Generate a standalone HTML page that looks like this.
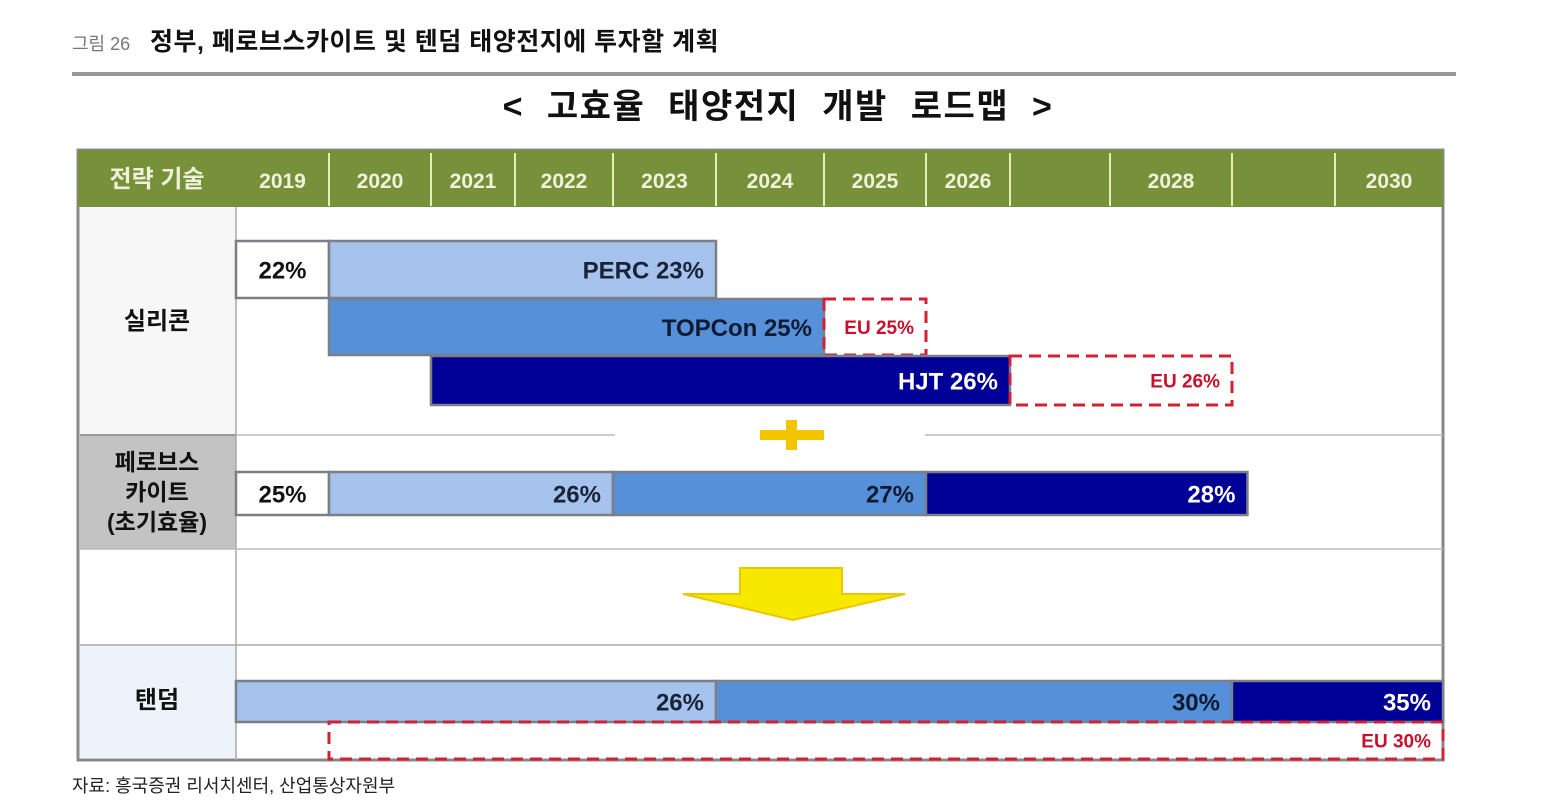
<!DOCTYPE html>
<html><head><meta charset="utf-8">
<style>
html,body{margin:0;padding:0;background:#fff;width:1563px;height:811px;overflow:hidden}
svg{display:block}
text{font-family:"Liberation Sans","Noto Sans CJK KR",sans-serif}
</style></head>
<body>
<svg id="fig" width="1563" height="811" viewBox="0 0 1563 811" xmlns="http://www.w3.org/2000/svg">
<text x="72" y="50" font-size="18" fill="#777">그림 26</text>
<text x="150" y="50" font-size="25" font-weight="bold" fill="#111" letter-spacing="0.5">정부, 페로브스카이트 및 텐덤 태양전지에 투자할 계획</text>
<rect x="72" y="72" width="1384" height="4" fill="#999"/>
<text x="778" y="118" font-size="34" font-weight="bold" fill="#111" text-anchor="middle" letter-spacing="1.5" word-spacing="12">&lt; 고효율 태양전지 개발 로드맵 &gt;</text>

<rect x="78" y="150" width="1365" height="610" fill="#fff" stroke="#888" stroke-width="3"/>
<rect x="78" y="150" width="1365" height="57" fill="#76913a"/>
<rect x="80" y="207" width="156" height="228" fill="#f7f7f7"/>
<rect x="80" y="435" width="156" height="114" fill="#c3c3c3"/>
<rect x="80" y="645" width="156" height="113" fill="#edf3fa"/>
<line x1="236" y1="207" x2="236" y2="760" stroke="#aaa" stroke-width="1.5"/>
<line x1="80" y1="435" x2="236" y2="435" stroke="#999" stroke-width="2"/>
<line x1="236" y1="435" x2="615" y2="435" stroke="#bbb" stroke-width="1.5"/>
<line x1="925" y1="435" x2="1443" y2="435" stroke="#bbb" stroke-width="1.5"/>
<line x1="80" y1="549" x2="1443" y2="549" stroke="#bbb" stroke-width="1.5"/>
<line x1="80" y1="645" x2="1443" y2="645" stroke="#aaa" stroke-width="1.5"/>

<text x="157" y="187" font-size="24" font-weight="bold" fill="#eef0d8" text-anchor="middle">전략 기술</text>
<g id="hdr"></g>

<text x="157" y="329" font-size="24" font-weight="bold" fill="#111" text-anchor="middle">실리콘</text>
<text x="157" y="470" font-size="23" font-weight="bold" fill="#111" text-anchor="middle">페로브스</text>
<text x="157" y="500" font-size="23" font-weight="bold" fill="#111" text-anchor="middle">카이트</text>
<text x="157" y="530" font-size="23" font-weight="bold" fill="#111" text-anchor="middle">(초기효율)</text>
<text x="157" y="708" font-size="24" font-weight="bold" fill="#111" text-anchor="middle">탠덤</text>

<g id="bars"></g>

<g>
<rect x="760" y="430" width="64" height="10" fill="#f5c400"/>
<rect x="786" y="420" width="11" height="30" fill="#f5c400"/>
</g>
<polygon points="740,568 842,568 842,594 905,594 793,620 683,594 740,594" fill="#f8e800" stroke="#e8c800" stroke-width="2"/>

<text x="72" y="792" font-size="18" fill="#222">자료: 흥국증권 리서치센터, 산업통상자원부</text>
</svg>
<script>
const years = [2019,2020,2021,2022,2023,2024,2025,2026,2027,2028,2029,2030,2031];
const headerLabels = ["2019","2020","2021","2022","2023","2024","2025","2026","","2028","","2030"];
const barLabels = ["22%","PERC 23%","TOPCon 25%","EU 25%","HJT 26%","EU 26%","25%","26%","27%","28%","26%","30%","35%","EU 30%"];
const barStart = [2019,2020,2020,2025,2021,2027,2019,2020,2023,2026,2019,2024,2029,2020];
const barEnd   = [2020,2024,2025,2026,2027,2029,2020,2023,2026,2029.15,2024,2029,2031,2031];
const barKind  = ["white","light","mid","eu","dark","eu","white","light","mid","dark","light","mid","dark","eu"];
const barRow   = [0,0,1,1,2,2,3,3,3,3,4,4,4,5];

const colX = [236,329,431,515,613,716,824,926,1010,1110,1232,1335,1443];
function xScale(y){
  let i = Math.max(0, Math.min(years.length-2, Math.floor(y - years[0])));
  return colX[i] + (y - years[i]) * (colX[i+1]-colX[i]);
}
const rowY = [[241,57],[299,56],[356,49],[472,43],[681,41],[722,37]];
const fills = {white:"#fff",light:"#a5c3ec",mid:"#5590d8",dark:"#000096",eu:"none"};
const textFill = {white:"#111",light:"#1a2238",mid:"#111a33",dark:"#fff",eu:"#c8102e"};
const NS="http://www.w3.org/2000/svg";
const hdr=document.getElementById('hdr');
for(let i=0;i<headerLabels.length;i++){
  const x0=xScale(years[i]), x1=xScale(years[i+1]);
  if(i>0){
    const l=document.createElementNS(NS,'line');
    l.setAttribute('x1',x0);l.setAttribute('x2',x0);l.setAttribute('y1',153);l.setAttribute('y2',206);
    l.setAttribute('stroke','#e6ecb8');l.setAttribute('stroke-width','2');
    
    
    hdr.appendChild(l);
  }
  const t=document.createElementNS(NS,'text');
  t.setAttribute('x',(x0+x1)/2);t.setAttribute('y',188);t.setAttribute('font-size','21');
  t.setAttribute('font-weight','bold');t.setAttribute('fill','#f2f2dc');t.setAttribute('text-anchor','middle');
  t.textContent=headerLabels[i];
  
  
  hdr.appendChild(t);
}
const g=document.getElementById('bars');
for(let i=0;i<barLabels.length;i++){
  const x0=xScale(barStart[i]), x1=xScale(barEnd[i]);
  const y=rowY[barRow[i]][0], h=rowY[barRow[i]][1];
  const kind=barKind[i];
  const r=document.createElementNS(NS,'rect');
  r.setAttribute('x',x0);r.setAttribute('y',y);r.setAttribute('width',x1-x0);r.setAttribute('height',h);
  r.setAttribute('fill',fills[kind]);
  if(kind==='eu'){r.setAttribute('stroke','#d42030');r.setAttribute('stroke-width','3');r.setAttribute('stroke-dasharray','12 7');}
  else{r.setAttribute('stroke','#7a7f88');r.setAttribute('stroke-width','2.5');}
  
  
  g.appendChild(r);
  const t=document.createElementNS(NS,'text');
  const center = kind==='white';
  t.setAttribute('x', center ? (x0+x1)/2 : x1-12);
  t.setAttribute('y', y+h/2+(kind==='eu'?7:9));
  t.setAttribute('font-size', kind==='eu'?'19':'24');
  t.setAttribute('font-weight','bold');
  t.setAttribute('fill',textFill[kind]);
  t.setAttribute('text-anchor', center?'middle':'end');
  t.textContent=barLabels[i];
  
  
  g.appendChild(t);
}
</script>
</body></html>
